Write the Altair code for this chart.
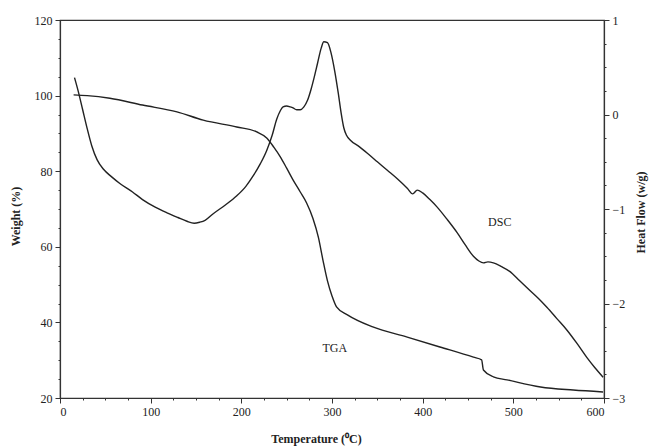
import altair as alt
import pandas as pd

# ---- data ----
tga_temp = [15, 30, 55, 91, 129, 158, 195, 217, 228, 236, 243, 250, 257, 265, 272,
            279, 285, 290, 295, 300, 305, 317, 345, 383, 419, 456, 465, 467, 478,
            493, 530, 566, 599]
tga_weight = [100.2, 100.0, 99.3, 97.5, 95.7, 93.5, 91.7, 90.4, 88.8, 86.3, 83.8,
              80.8, 77.7, 74.5, 71.6, 67.5, 62.5, 56.5, 51.0, 47.0, 44.1, 42.0,
              38.8, 36.1, 33.5, 30.8, 30.1, 27.4, 25.6, 24.8, 22.9, 22.1, 21.6]

dsc_temp = [16, 20, 25, 30, 35, 41, 48, 57, 66, 80, 91, 105, 118, 130, 140, 148,
            154, 160, 169, 182, 195, 205, 213, 221, 228, 234, 239, 243, 246, 250,
            254, 257, 261, 265, 269, 273, 277, 280, 284, 288, 291, 295, 299, 303,
            307, 310, 313, 316, 320, 330, 339, 350, 361, 372, 383, 389, 394, 400,
            408, 416, 427, 438, 447, 456, 462, 467, 472, 478, 487, 496, 507, 518,
            528, 537, 548, 559, 570, 581, 590, 599]
dsc_heat = [0.39, 0.25, 0.05, -0.15, -0.33, -0.48, -0.58, -0.66, -0.73, -0.82,
            -0.90, -0.98, -1.04, -1.09, -1.13, -1.15, -1.14, -1.12, -1.05, -0.96,
            -0.86, -0.76, -0.65, -0.52, -0.38, -0.22, -0.05, 0.04, 0.08, 0.09,
            0.08, 0.07, 0.05, 0.05, 0.08, 0.15, 0.27, 0.38, 0.54, 0.70, 0.77, 0.76,
            0.65, 0.46, 0.22, 0.02, -0.14, -0.22, -0.27, -0.34, -0.41, -0.50,
            -0.59, -0.68, -0.78, -0.84, -0.80, -0.83, -0.90, -0.98, -1.11, -1.25,
            -1.38, -1.50, -1.55, -1.57, -1.56, -1.57, -1.61, -1.66, -1.76, -1.86,
            -1.95, -2.04, -2.16, -2.28, -2.42, -2.57, -2.68, -2.78]

label_text = ["TGA", "DSC"]
label_temp = [303, 485]
label_weight = [33.2, 66.6]

x_ticks = list(range(0, 601, 25))
w_ticks = list(range(20, 121, 5))
h_ticks = [-3 + 0.25 * i for i in range(17)]

tga_df = pd.DataFrame({"t": tga_temp, "w": tga_weight})
dsc_df = pd.DataFrame({"t": dsc_temp, "h": dsc_heat})
lab_df = pd.DataFrame({"t": label_temp, "w": label_weight, "txt": label_text})

FONT = "Liberation Serif"
INK = "#222222"

x_axis = alt.Axis(
    values=x_ticks,
    labelExpr="datum.value % 100 === 0 ? datum.label : ''",
    tickSize={"condition": {"test": "datum.value % 100 === 0", "value": 5}, "value": 2},
    grid=False, title="Temperature (⁰C)",
    titleX=256, titleY=40, titleAlign="center", titleBaseline="middle",
    labelPadding=3,
)
x_enc = alt.X("t:Q", scale=alt.Scale(domain=[0, 600], nice=False, zero=False), axis=x_axis)

w_scale = alt.Scale(domain=[20, 120], nice=False, zero=False)
w_axis = alt.Axis(
    orient="left", values=w_ticks, format="d",
    labelExpr="datum.value % 20 === 0 ? datum.label : ''",
    tickSize={"condition": {"test": "datum.value % 20 === 0", "value": 5}, "value": 2},
    grid=False, title="Weight (%)",
    titleAngle=270, titleX=-45, titleY=196, titleAlign="center", titleBaseline="middle",
    labelPadding=3,
)
h_axis = alt.Axis(
    orient="right", values=h_ticks, format="~g",
    labelExpr="datum.value % 1 === 0 ? datum.label : ''",
    tickSize={"condition": {"test": "datum.value % 1 === 0", "value": 5}, "value": 2},
    grid=False, title="Heat Flow (w/g)",
    titleAngle=270, titleX=36, titleY=192, titleAlign="center", titleBaseline="middle",
    labelPadding=3,
)

tga_line = alt.Chart(tga_df).mark_line(color=INK, strokeWidth=1.4, interpolate="monotone").encode(
    x=x_enc,
    y=alt.Y("w:Q", scale=w_scale, axis=w_axis),
    order="t:Q",
)
tga_text = alt.Chart(lab_df).mark_text(font=FONT, fontSize=12, color=INK).encode(
    x=x_enc,
    y=alt.Y("w:Q", scale=w_scale, axis=w_axis),
    text="txt:N",
)
dsc_line = alt.Chart(dsc_df).mark_line(color=INK, strokeWidth=1.4, interpolate="monotone").encode(
    x=x_enc,
    y=alt.Y("h:Q", scale=alt.Scale(domain=[-3, 1], nice=False, zero=False), axis=h_axis),
    order="t:Q",
)

chart = (
    alt.layer(alt.layer(tga_line, tga_text), dsc_line)
    .resolve_scale(y="independent")
    .properties(
        width=544, height=378,
        autosize=alt.AutoSizeParams(type="none"),
        padding={"left": 60, "top": 20, "right": 48, "bottom": 50},
        background="white",
    )
    .configure_view(stroke="#333333", strokeWidth=1.2)
    .configure_axis(
        labelFont=FONT, titleFont=FONT, labelFontSize=12, titleFontSize=12,
        titleFontWeight="bold", labelColor=INK, titleColor=INK,
        domainColor="#333333", tickColor="#333333", domainWidth=1.2,
    )
)

chart.save("out.html", embed_options={"renderer": "svg", "actions": False})
